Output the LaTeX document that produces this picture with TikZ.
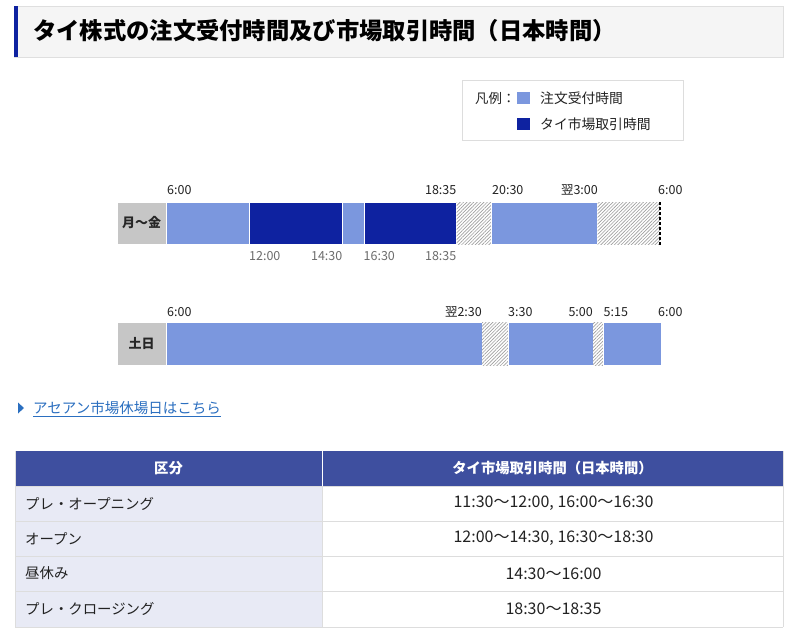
\documentclass[tikz,border=0pt]{standalone}
\usepackage{fontspec}
\setmainfont{Noto Sans CJK JP}
\usetikzlibrary{patterns.meta}
\definecolor{lightb}{HTML}{7B97DE}
\definecolor{darkb}{HTML}{0E22A0}
\definecolor{hdr}{HTML}{3E4F9F}
\definecolor{colbg}{HTML}{E8EAF5}
\definecolor{linkc}{HTML}{2B6FC0}
\definecolor{txt}{HTML}{222222}
\definecolor{lblgray}{HTML}{C6C6C6}
\definecolor{gridc}{HTML}{DDDDDD}
\begin{document}
\begin{tikzpicture}[x=1pt,y=-1pt,
  seglight/.style={fill=lightb, draw=white, line width=0.8pt},
  segdark/.style={fill=darkb, draw=white, line width=0.8pt},
  seghatch/.style={draw=white, line width=0.8pt, fill=white,
    postaction={pattern={Lines[angle=45,distance=2.4pt,line width=0.65pt]}, pattern color=gray!75}},
  daylbl/.style={fill=lblgray, draw=white, line width=0.8pt},
  toplbl/.style={font=\fontsize{12.5}{14}\selectfont, text=txt, inner sep=0pt},
  botlbl/.style={font=\fontsize{12.5}{14}\selectfont, text=gray!85!black, inner sep=0pt},
  celltxt/.style={font=\fontsize{14.4}{16}\selectfont, text=txt, inner sep=0pt},
  valtxt/.style={font=\fontsize{16}{18}\selectfont, text=txt, inner sep=0pt},
  hdrtxt/.style={font=\fontsize{14.3}{16}\selectfont\bfseries, text=white, inner sep=0pt},
]
\useasboundingbox (0,0) rectangle (800,642);
\fill[white] (0,0) rectangle (800,642);

% title
\filldraw[fill=gray!8, draw=gray!25] (14,6) rectangle (783,57);
\fill[darkb] (14,6) rectangle (17.5,57);
\node[anchor=west, inner sep=0pt, font=\fontsize{23.3}{25}\selectfont\bfseries, text=black] (title) at (33,31) {タイ株式の注文受付時間及び市場取引時間（日本時間）};

% legend
\draw[gridc] (462,80) rectangle (683,140);
\node[anchor=west, inner sep=0pt, font=\fontsize{13.4}{15}\selectfont, text=txt] (legk) at (475,98) {凡例：};
\fill[lightb] (517,92) rectangle (530,104);
\node[anchor=west, inner sep=0pt, font=\fontsize{13.8}{15}\selectfont, text=txt] (leg1) at (540,98) {注文受付時間};
\fill[darkb] (517,118) rectangle (530,130);
\node[anchor=west, inner sep=0pt, font=\fontsize{13.8}{15}\selectfont, text=txt] (leg2) at (540,124) {タイ市場取引時間};

% weekday bar
\path[daylbl] (117,202) rectangle (166.5,244);
\node[font=\fontsize{13}{15}\selectfont\bfseries, text=gray!30!black, inner sep=0pt] (wd) at (141.5,223) {月〜金};
\path[seglight] (166.5,202) rectangle (249.5,244);
\path[segdark]  (249.5,202) rectangle (342.5,244);
\path[seglight] (342.5,202) rectangle (364,244);
\path[segdark]  (364,202) rectangle (456.5,244);
\path[seghatch] (456.5,202) rectangle (491.5,244);
\path[seglight] (491.5,202) rectangle (597.5,244);
\path[seghatch] (597.5,202) rectangle (660,244);
\draw[black, line width=1.4pt, dash pattern=on 3pt off 2pt] (660,202) -- (660,245);

\node[toplbl, anchor=west] (a600) at (167,190) {6:00};
\node[toplbl, anchor=east] (a1835) at (456.5,190) {18:35};
\node[toplbl, anchor=west] (a2030) at (492,190) {20:30};
\node[toplbl, anchor=east] (a300) at (598,190) {翌3:00};
\node[toplbl, anchor=west] (a600b) at (658,190) {6:00};
\node[botlbl, anchor=west] (b1200) at (249,256) {12:00};
\node[botlbl, anchor=east] (b1430) at (342.5,256) {14:30};
\node[botlbl, anchor=west] (b1630) at (363.5,256) {16:30};
\node[botlbl, anchor=east] (b1835) at (456.5,256) {18:35};

% weekend bar
\path[daylbl] (117,322) rectangle (166.5,365);
\node[font=\fontsize{13}{15}\selectfont\bfseries, text=gray!30!black, inner sep=0pt] (we) at (141.5,343.5) {土日};
\path[seglight] (166.5,322) rectangle (482,365);
\path[seghatch] (482,322) rectangle (508,365);
\path[seglight] (508,322) rectangle (593,365);
\path[seghatch] (593,322) rectangle (603,365);
\path[seglight] (603,322) rectangle (661,365);

\node[toplbl, anchor=west] (c600) at (167,312) {6:00};
\node[toplbl, anchor=east] (c230) at (482,312) {翌2:30};
\node[toplbl, anchor=west] (c330) at (508,312) {3:30};
\node[toplbl, anchor=east] (c500) at (593,312) {5:00};
\node[toplbl, anchor=west] (c515) at (603.5,312) {5:15};
\node[toplbl, anchor=west] (c600b) at (658,312) {6:00};

% link
\fill[linkc] (18,402.5) -- (24,408) -- (18,413.5) -- cycle;
\node[anchor=west, inner sep=0pt, font=\fontsize{14.5}{16}\selectfont, text=linkc] (link) at (33,408) {アセアン市場休場日はこちら};
\draw[linkc, line width=0.8pt] ([yshift=-2.5pt]link.base west) -- ([yshift=-2.5pt]link.base east);

% table
\fill[hdr] (15,451) rectangle (783,486);
\fill[colbg] (15,486) rectangle (322,627);
\draw[white, line width=1pt] (322,451) -- (322,486);
\draw[gridc, line width=0.8pt] (15,486) -- (783,486) (15,521) -- (783,521) (15,556) -- (783,556) (15,591) -- (783,591) (15,627) -- (783,627);
\draw[gridc, line width=0.8pt] (322,486) -- (322,627) (15,451) -- (15,627) (783,451) -- (783,627);
\node[hdrtxt] (h1) at (168.5,468.5) {区分};
\node[hdrtxt] (h2) at (552.5,468.5) {タイ市場取引時間（日本時間）};
\node[celltxt, anchor=west] (r1a) at (25,503.5) {プレ・オープニング};
\node[valtxt] (r1b) at (553.5,503.5) {11:30〜12:00, 16:00〜16:30};
\node[celltxt, anchor=west] (r2a) at (25,538.5) {オープン};
\node[valtxt] (r2b) at (553.5,538.5) {12:00〜14:30, 16:30〜18:30};
\node[celltxt, anchor=west] (r3a) at (25,573.5) {昼休み};
\node[valtxt] (r3b) at (553.5,573.5) {14:30〜16:00};
\node[celltxt, anchor=west] (r4a) at (25,609) {プレ・クロージング};
\node[valtxt] (r4b) at (553.5,609) {18:30〜18:35};
\end{tikzpicture}
\end{document}
